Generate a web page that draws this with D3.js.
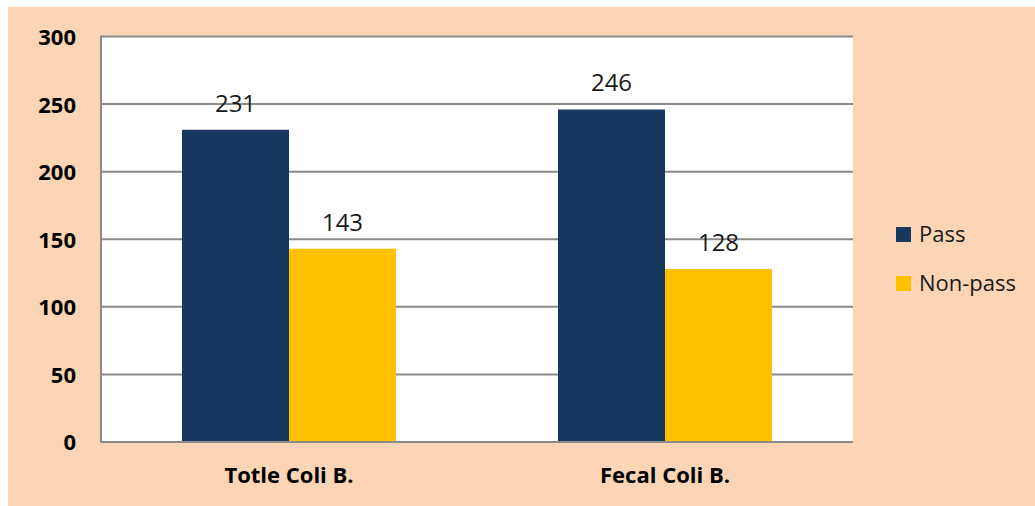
<!DOCTYPE html>
<html>
<head>
<meta charset="utf-8">
<script src="https://cdn.jsdelivr.net/npm/d3@7"></script>
<style>
  html, body { margin: 0; padding: 0; background: #ffffff; }
  svg { display: block; }
  text { font-family: "Open Sans", "Lato", sans-serif; }
</style>
</head>
<body>
<svg id="chart" width="1035" height="506"></svg>
<script>
// Coliform test results per indicator
const categories = ["Totle Coli B.", "Fecal Coli B."];
const seriesNames = ["Pass", "Non-pass"];
const passValues = [231, 246];
const nonPassValues = [143, 128];
const yTicks = [0, 50, 100, 150, 200, 250, 300];

const colors = { "Pass": "#17375E", "Non-pass": "#FFC000" };

const rows = categories.map((c, i) => ({
  category: c,
  values: [
    { series: "Pass", value: passValues[i] },
    { series: "Non-pass", value: nonPassValues[i] }
  ]
}));

const W = 1035, H = 506;
const plot = { left: 101, right: 853, top: 36.5, bottom: 442 };

const svg = d3.select("#chart");

// page and chart-area backgrounds
svg.append("rect").attr("width", W).attr("height", H).attr("fill", "#ffffff");
svg.append("rect").attr("x", 8).attr("y", 7).attr("width", W - 8).attr("height", H - 7)
  .attr("fill", "#FBD5B5");
svg.append("rect")
  .attr("x", plot.left).attr("y", plot.top)
  .attr("width", plot.right - plot.left).attr("height", plot.bottom - plot.top)
  .attr("fill", "#ffffff");

const y = d3.scaleLinear().domain([0, 300]).range([plot.bottom, plot.top]);
const x0 = d3.scaleBand().domain(categories).range([plot.left, plot.right]).padding(0);
const x1 = d3.scaleBand().domain(seriesNames).range([0, x0.bandwidth()])
  .paddingInner(0).paddingOuter(0.757);

// horizontal gridlines
svg.append("g")
  .selectAll("line")
  .data(yTicks.filter(t => t > 0))
  .join("line")
  .attr("x1", plot.left).attr("x2", plot.right)
  .attr("y1", d => y(d)).attr("y2", d => y(d))
  .attr("stroke", "#8a8a8a").attr("stroke-width", 2);

// bars
const groups = svg.append("g")
  .selectAll("g")
  .data(rows)
  .join("g")
  .attr("transform", d => `translate(${x0(d.category)},0)`);

groups.selectAll("rect")
  .data(d => d.values)
  .join("rect")
  .attr("x", d => x1(d.series))
  .attr("y", d => y(d.value))
  .attr("width", x1.bandwidth())
  .attr("height", d => y(0) - y(d.value))
  .attr("fill", d => colors[d.series]);

// value labels
groups.selectAll("text")
  .data(d => d.values)
  .join("text")
  .attr("x", d => x1(d.series) + x1.bandwidth() / 2)
  .attr("y", d => y(d.value) - 18)
  .attr("text-anchor", "middle")
  .attr("font-size", 24)
  .attr("fill", "#1a1a1a")
  .text(d => d.value);

// y axis
const yAxis = d3.axisLeft(y).tickValues(yTicks).tickSize(0).tickPadding(25);
const yg = svg.append("g").attr("transform", `translate(${plot.left},0)`).call(yAxis);
yg.select(".domain").remove();
yg.selectAll("text")
  .attr("font-size", 22).attr("font-weight", "bold").attr("fill", "#000")
  .attr("font-family", "'Open Sans', sans-serif")
  .attr("dy", "0.36em");

// axis lines: left and bottom
svg.append("line")
  .attr("x1", plot.left).attr("x2", plot.left)
  .attr("y1", plot.top - 1).attr("y2", plot.bottom + 1)
  .attr("stroke", "#8a8a8a").attr("stroke-width", 2);
svg.append("line")
  .attr("x1", plot.left).attr("x2", plot.right)
  .attr("y1", y(0)).attr("y2", y(0))
  .attr("stroke", "#8a8a8a").attr("stroke-width", 2);

// x axis category labels
const xAxis = d3.axisBottom(x0).tickSize(0).tickPadding(25);
const xg = svg.append("g").attr("transform", `translate(0,${plot.bottom})`).call(xAxis);
xg.select(".domain").remove();
xg.selectAll("text")
  .attr("font-size", 22).attr("font-weight", "bold").attr("fill", "#000")
  .attr("font-family", "'Open Sans', sans-serif");

// legend
const legend = svg.append("g")
  .selectAll("g")
  .data(seriesNames)
  .join("g")
  .attr("transform", (d, i) => `translate(896,${227 + i * 49})`);
legend.append("rect")
  .attr("width", 15).attr("height", 15)
  .attr("fill", d => colors[d]);
legend.append("text")
  .attr("x", 23).attr("y", 15)
  .attr("font-size", 22)
  .attr("fill", "#1a1a1a")
  .text(d => d);
</script>
</body>
</html>
